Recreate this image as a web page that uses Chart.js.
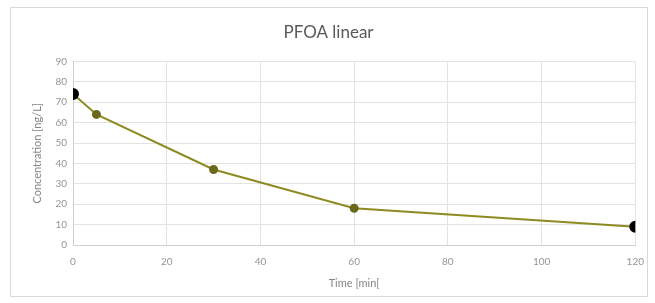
<!DOCTYPE html>
<html>
<head>
<meta charset="utf-8">
<script src="https://cdn.jsdelivr.net/npm/chart.js@4"></script>
<style>
  html, body { margin: 0; padding: 0; background: #fff; }
  #wrap { position: relative; width: 655px; height: 303px; }
  #frame { position: absolute; left: 10px; top: 7px; width: 638px; height: 290px; border: 1px solid #d9d9d9; box-sizing: border-box; }
  #myChart { position: absolute; left: 0; top: 0; }
</style>
</head>
<body>
<div id="wrap">
  <div id="frame"></div>
  <canvas id="myChart" width="655" height="303"></canvas>
</div>
<script>
// values
const times = [0, 5, 30, 60, 120];
const concentrations = [74, 64, 37, 18, 9];
const xTicks = [0, 20, 40, 60, 80, 100, 120];
const yTicks = [0, 10, 20, 30, 40, 50, 60, 70, 80, 90];

const points = times.map((t, i) => ({ x: t, y: concentrations[i] }));

// end points are black, middle ones olive
const pointColors = times.map((t, i) => (i === 0 || i === times.length - 1) ? '#000000' : '#6b681c');
const pointSizes = times.map((t, i) => (i === 0 || i === times.length - 1) ? 5 : 3.5);

const tickFont = { family: 'Lato', size: 10 };
const axisTitleFont = { family: 'Lato', size: 11 };

const myChart = new Chart(document.getElementById('myChart'), {
  type: 'scatter',
  data: {
    datasets: [{
      label: 'PFOA linear',
      data: points,
      showLine: true,
      borderColor: '#8e8a22',
      borderWidth: 2,
      pointBackgroundColor: pointColors,
      pointBorderColor: pointColors,
      pointRadius: pointSizes,
      tension: 0
    }]
  },
  options: {
    responsive: false,
    animation: false,
    layout: { padding: { left: 20, right: 18, top: 2, bottom: 12 } },
    plugins: {
      legend: { display: false },
      tooltip: { enabled: false },
      title: {
        display: true,
        text: 'PFOA linear',
        color: '#595959',
        font: { family: 'Lato', size: 17, weight: 'normal' },
        padding: { top: 20, bottom: 19 }
      }
    },
    scales: {
      x: {
        type: 'linear',
        min: 0,
        max: 120,
        afterBuildTicks: axis => { axis.ticks = xTicks.map(v => ({ value: v })); },
        afterFit: axis => { axis.height = 46; },
        grid: { color: '#e3e3e3', drawTicks: false },
        border: { color: '#d0d0d0' },
        ticks: { color: '#959595', font: tickFont, padding: 11 },
        title: {
          display: true,
          text: 'Time [min[',
          color: '#858585',
          font: axisTitleFont,
          padding: { top: 0, bottom: 1 }
        }
      },
      y: {
        min: 0,
        max: 90,
        afterBuildTicks: axis => { axis.ticks = yTicks.map(v => ({ value: v })); },
        afterFit: axis => { axis.width = 53; },
        grid: { color: '#e3e3e3', drawTicks: false },
        border: { color: '#d0d0d0' },
        ticks: { color: '#959595', font: tickFont, padding: 6 },
        title: {
          display: true,
          text: 'Concentration [ng/L]',
          color: '#858585',
          font: axisTitleFont,
          padding: { top: 11, bottom: 0 }
        }
      }
    }
  }
});
</script>
</body>
</html>
